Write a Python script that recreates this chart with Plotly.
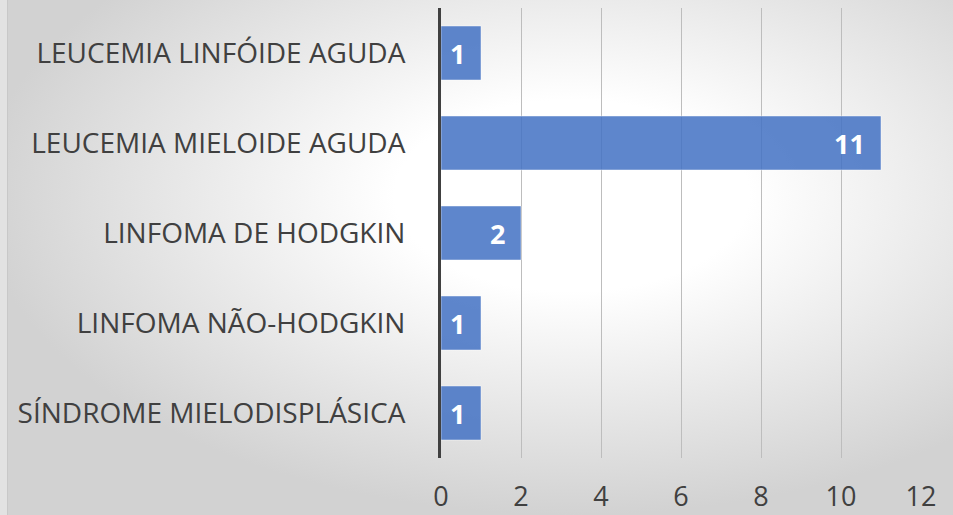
import base64
import plotly.graph_objects as go

categories = ["LEUCEMIA LINFÓIDE AGUDA", "LEUCEMIA MIELOIDE AGUDA", "LINFOMA DE HODGKIN",
              "LINFOMA NÃO-HODGKIN", "SÍNDROME MIELODISPLÁSICA"]
values = [1, 11, 2, 1, 1]
x_ticks = [0, 2, 4, 6, 8, 10, 12]

W, H = 953, 515
ML, MR, MT, MB = 441, 32, 8, 57
PW, PH = W - ML - MR, H - MT - MB

svg = f'''<svg xmlns="http://www.w3.org/2000/svg" width="{W}" height="{H}" viewBox="0 0 {W} {H}" preserveAspectRatio="none">
<defs><radialGradient id="g" cx="0.6" cy="0.38" r="0.62" gradientUnits="objectBoundingBox">
<stop offset="0" stop-color="#ffffff"/><stop offset="0.3" stop-color="#ffffff"/>
<stop offset="1" stop-color="#d2d2d2"/></radialGradient></defs>
<rect width="{W}" height="{H}" fill="url(#g)"/>
<rect x="0" y="0" width="7" height="{H}" fill="#e2e2e2"/>
<rect x="7" y="0" width="1" height="{H}" fill="#c8c8c8"/>
</svg>'''
bg = "data:image/svg+xml;base64," + base64.b64encode(svg.encode()).decode()

FONT = "Open Sans"

fig = go.Figure(go.Bar(
    x=values, y=categories, orientation="h", width=0.6,
    marker=dict(color="rgba(68,114,196,0.86)", line=dict(color="rgba(255,255,255,0.45)", width=1)),
    hoverinfo="x+y",
))

for c, v in zip(categories, values):
    fig.add_annotation(x=v, y=c, xref="x", yref="y", text=f"<b>{v}</b>", showarrow=False,
                       xanchor="right", xshift=-14, font=dict(family=FONT, size=27, color="white"))

fig.add_layout_image(dict(source=bg, xref="paper", yref="paper",
                          x=-ML / PW, y=1 + MT / PH, sizex=W / PW, sizey=H / PH,
                          xanchor="left", yanchor="top", sizing="stretch", layer="below"))

fig.update_layout(
    width=W, height=H, margin=dict(l=ML, r=MR, t=MT, b=MB, autoexpand=False),
    paper_bgcolor="white", plot_bgcolor="rgba(0,0,0,0)",
    showlegend=False, bargap=0.4,
    font=dict(family=FONT, size=28, color="#404040"),
    xaxis=dict(range=[0, 12], tickvals=x_ticks, showgrid=True, gridcolor="#bdbdbd", gridwidth=1,
               zeroline=False, showline=False, ticks="", ticklabelstandoff=20, automargin=False,
               tickfont=dict(size=27, color="#404040")),
    yaxis=dict(categoryorder="array", categoryarray=categories, autorange="reversed",
               showline=True, linecolor="#404040", linewidth=3, ticks="", ticklabelstandoff=27,
               automargin=False, showgrid=False, tickfont=dict(size=28, color="#404040")),
)

fig.write_html("out.html", config={"displayModeBar": False},
               post_script="document.body.style.margin='0';document.body.style.overflow='hidden';")
